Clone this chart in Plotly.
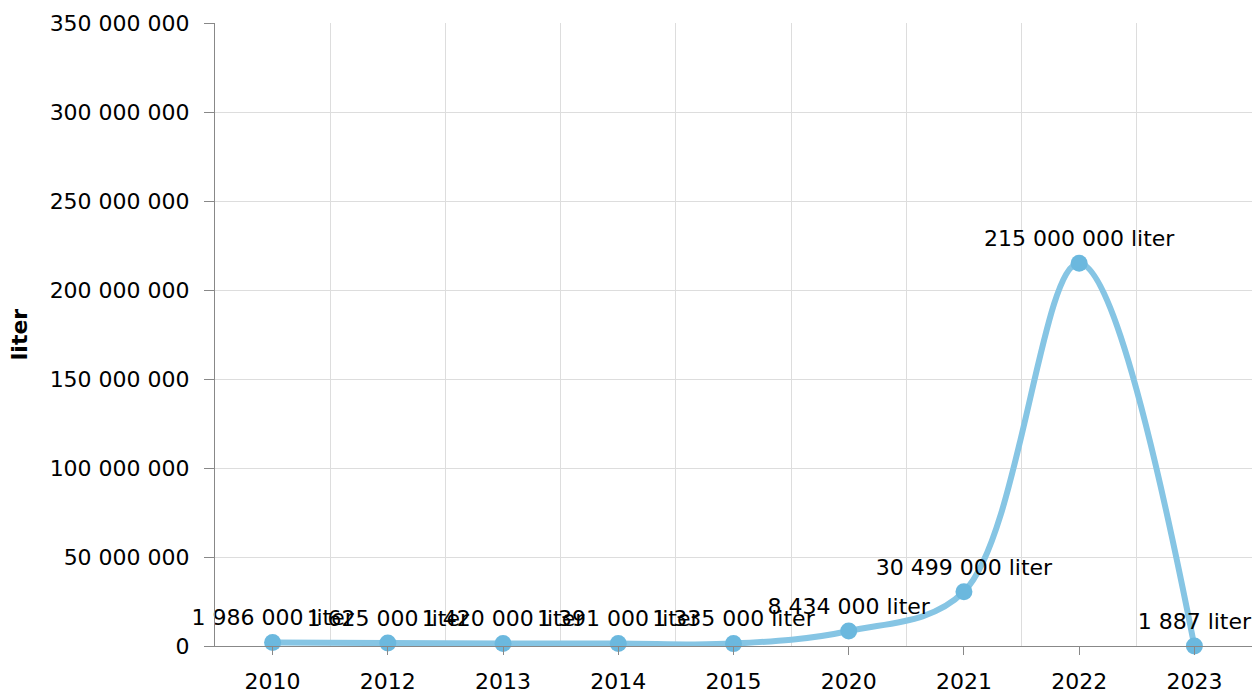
import plotly.graph_objects as go

years = ["2010", "2012", "2013", "2014", "2015", "2020", "2021", "2022", "2023"]
values = [1986000, 1625000, 1420000, 1391000, 1335000, 8434000, 30499000, 215000000, 1887]
y_ticks = [0, 50000000, 100000000, 150000000, 200000000, 250000000, 300000000, 350000000]
unit = "liter"

def fmt(v):
    return f"{v:,}".replace(",", " ")

labels = [f"{fmt(v)} {unit}" for v in values]
xs = list(range(len(years)))
FONT = "DejaVu Sans, Verdana, sans-serif"
FS = 22

fig = go.Figure()
fig.add_trace(go.Scatter(
    x=xs, y=values, mode="lines+markers+text",
    line=dict(color="#86C5E4", width=6, shape="spline", smoothing=1.0),
    marker=dict(color="#6BB8DE", size=17),
    text=labels, textposition="top center",
    textfont=dict(family=FONT, size=FS, color="#000000"),
    cliponaxis=False, hoverinfo="skip",
))

fig.update_layout(
    width=1254, height=693,
    margin=dict(l=215, r=2, t=23, b=47, autoexpand=False),
    paper_bgcolor="white", plot_bgcolor="white",
    showlegend=False,
    separators=". ",
    font=dict(family=FONT, size=FS, color="#000000"),
)
fig.update_xaxes(
    range=[-0.5, len(years) - 0.5],
    tickmode="array", tickvals=xs, ticktext=years,
    showgrid=False, zeroline=False,
    showline=True, linecolor="#888888", linewidth=1,
    ticks="outside", ticklen=8, tickcolor="#888888",
    ticklabelstandoff=8,
    tickfont=dict(size=FS),
    minor=dict(tickmode="array", tickvals=[i + 0.5 for i in range(-1, len(years))],
               showgrid=True, gridcolor="#DDDDDD", gridwidth=1, ticks=""),
)
fig.update_yaxes(
    range=[0, 350000000],
    tickmode="array", tickvals=y_ticks,
    tickformat=",d",
    showgrid=True, gridcolor="#DDDDDD", gridwidth=1,
    zeroline=False,
    showline=True, linecolor="#888888", linewidth=1,
    ticks="outside", ticklen=10, tickcolor="#888888",
    ticklabelstandoff=10,
    tickfont=dict(size=FS),
    title=dict(text="<b>liter</b>", font=dict(size=FS), standoff=15),
)

fig.write_html("out.html", config={"displayModeBar": False},
               post_script="document.body.style.margin='0';")
